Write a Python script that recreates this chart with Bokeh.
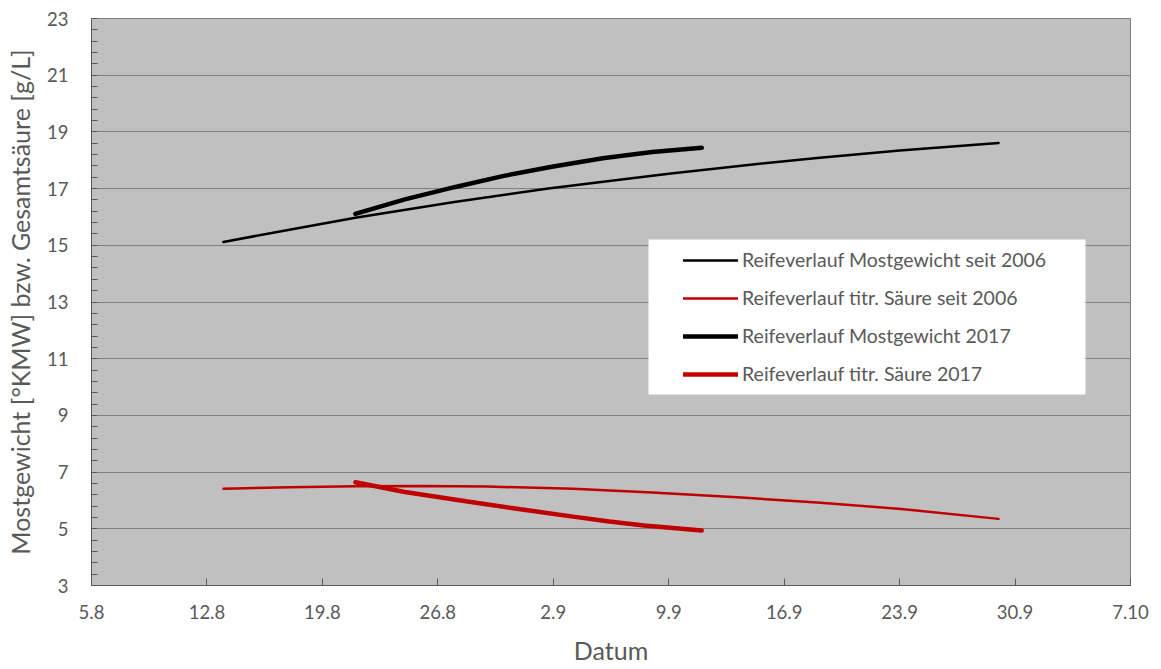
from bokeh.plotting import figure
from bokeh.models import (Range1d, FixedTicker, Legend, LegendItem, BoxAnnotation)
from bokeh.embed import file_html
from bokeh.resources import INLINE

# x = days since 5 August
tick_days = [0, 7, 14, 21, 28, 35, 42, 49, 56, 63]
tick_labels = ["5.8", "12.8", "19.8", "26.8", "2.9", "9.9", "16.9", "23.9", "30.9", "7.10"]
y_ticks = [3, 5, 7, 9, 11, 13, 15, 17, 19, 21, 23]
y_minor_ticks = [round(3 + 0.4 * i, 1) for i in range(51)]

most_avg_x = [8, 12, 16, 21.9, 27.7, 30.9, 35, 39.4, 44, 49, 55]
most_avg_y = [15.12, 15.55, 15.97, 16.52, 17.0, 17.23, 17.52, 17.81, 18.08, 18.34, 18.61]

saeure_avg_x = [8, 12, 16, 20, 24, 29.2, 34, 39.4, 44, 49.1, 55]
saeure_avg_y = [6.41, 6.47, 6.50, 6.51, 6.49, 6.41, 6.28, 6.10, 5.93, 5.70, 5.35]

most_2017_x = [16, 19, 22, 25, 28, 31, 34, 37]
most_2017_y = [16.11, 16.62, 17.05, 17.45, 17.78, 18.07, 18.29, 18.44]

saeure_2017_x = [16.0, 19, 22.7, 26, 29.2, 31.4, 33.5, 37.0]
saeure_2017_y = [6.64, 6.30, 5.97, 5.69, 5.43, 5.26, 5.12, 4.94]

names = ["Reifeverlauf Mostgewicht seit 2006", "Reifeverlauf titr. Säure seit 2006",
         "Reifeverlauf Mostgewicht 2017", "Reifeverlauf titr. Säure 2017"]

FONT = "Lato"
TXT = "#595959"
RED = "#C00000"

p = figure(width=1153, height=669, output_backend="svg", toolbar_location=None,
           x_range=Range1d(0, 63), y_range=Range1d(3, 23),
           min_border_left=91, min_border_right=23, min_border_top=18, min_border_bottom=84)
p.background_fill_color = "#C0C0C0"
p.border_fill_color = "white"
p.outline_line_color = "#7f7f7f"
p.outline_line_width = 1

p.xgrid.visible = False
p.ygrid.grid_line_color = "#808080"
p.ygrid.grid_line_width = 1

# x axis
p.xaxis.ticker = FixedTicker(ticks=tick_days)
p.xaxis.major_label_overrides = {d: l for d, l in zip(tick_days, tick_labels)}
p.xaxis.major_tick_in = 7
p.xaxis.major_tick_out = 0
p.xaxis.minor_tick_line_color = None
p.xaxis.axis_line_color = "#595959"
p.xaxis.major_tick_line_color = "#595959"
p.xaxis.major_label_standoff = 19
p.xaxis.axis_label = "Datum"
p.xaxis.axis_label_standoff = 13

# y axis
p.yaxis.ticker = FixedTicker(ticks=y_ticks, minor_ticks=y_minor_ticks)
p.yaxis.major_tick_in = 0
p.yaxis.major_tick_out = 0
p.yaxis.minor_tick_in = 6
p.yaxis.minor_tick_out = 0
p.yaxis.axis_line_color = "#595959"
p.yaxis.minor_tick_line_color = "#595959"
p.yaxis.major_label_standoff = 23
p.yaxis.axis_label = "Mostgewicht [°KMW] bzw. Gesamtsäure [g/L]"
p.yaxis.axis_label_standoff = 9

for ax in (p.xaxis, p.yaxis):
    ax.major_label_text_font = FONT
    ax.major_label_text_font_size = "18.5px"
    ax.major_label_text_color = TXT
    ax.major_label_text_line_height = 1.0
    ax.axis_label_text_font = FONT
    ax.axis_label_text_font_size = "25px"
    ax.axis_label_text_font_style = "normal"
    ax.axis_label_text_color = TXT
    ax.axis_label_text_line_height = 1.0

r1 = p.line(most_avg_x, most_avg_y, line_color="black", line_width=2.5, line_cap="round")
r2 = p.line(saeure_avg_x, saeure_avg_y, line_color=RED, line_width=2.5, line_cap="round")
r3 = p.line(most_2017_x, most_2017_y, line_color="black", line_width=4.5, line_cap="round")
r4 = p.line(saeure_2017_x, saeure_2017_y, line_color=RED, line_width=4.5, line_cap="round")

box = BoxAnnotation(left=557, right=994, bottom=191, top=346,
                    left_units="screen", right_units="screen",
                    bottom_units="screen", top_units="screen",
                    fill_color="white", fill_alpha=1.0, line_color=None)
p.add_layout(box)

legend = Legend(items=[LegendItem(label=n, renderers=[r]) for n, r in zip(names, [r1, r2, r3, r4])],
                location=(592, 200), padding=0, margin=0, spacing=15,
                glyph_width=55, glyph_height=22, label_height=22, label_standoff=4,
                background_fill_alpha=0, border_line_color=None,
                label_text_font=FONT, label_text_font_size="19.5px", label_text_color=TXT,
                label_text_line_height=1.0)
p.add_layout(legend)

open("out.html", "w").write(file_html(p, INLINE))
